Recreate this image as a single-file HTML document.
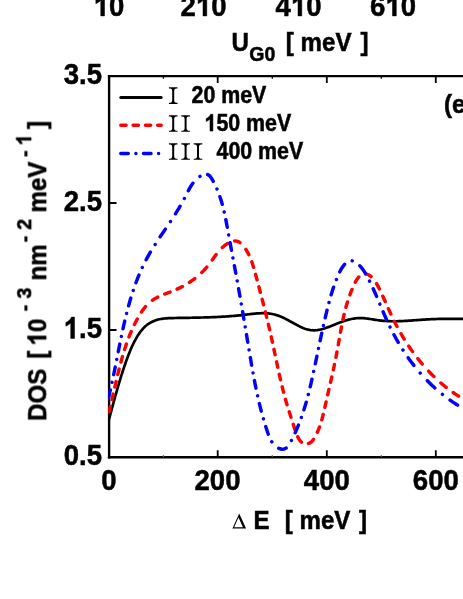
<!DOCTYPE html>
<html><head><meta charset="utf-8"><title>DOS chart</title>
<style>
html,body{margin:0;padding:0;background:#fff;}
body{width:463px;height:599px;overflow:hidden;}
svg{display:block;will-change:transform;}
text{font-family:"Liberation Sans",sans-serif;font-weight:bold;fill:#000;stroke:#000;stroke-width:0.5px;}
.t{font-size:28px;}
.l{font-size:24.5px;}
.s{font-size:19.8px;}
.g{font-size:21.5px;}
</style></head><body>
<svg width="463" height="599" viewBox="0 0 463 599">
<rect width="463" height="599" fill="#fff"/>
<g opacity="0.999">
<!-- top panel tick labels -->
<g transform="translate(109.0 15.9) scale(0.985 1.06)"><path d="M806,0H525V1059Q371,915 162,846V1101Q272,1137 401,1237.5Q530,1338 578,1472H806Z" transform="translate(-15.568 0) scale(0.013672 -0.013672)" fill="#000" stroke="#000" stroke-width="36.6"/><text class="t" x="0.000" y="0" xml:space="preserve">0</text></g>
<g transform="translate(203.6 15.9) scale(0.985 1.06)"><text class="t" x="-23.352" y="0" xml:space="preserve">2</text><path d="M806,0H525V1059Q371,915 162,846V1101Q272,1137 401,1237.5Q530,1338 578,1472H806Z" transform="translate(-7.784 0) scale(0.013672 -0.013672)" fill="#000" stroke="#000" stroke-width="36.6"/><text class="t" x="7.784" y="0" xml:space="preserve">0</text></g>
<g transform="translate(298.6 15.9) scale(0.985 1.06)"><text class="t" x="-23.352" y="0" xml:space="preserve">4</text><path d="M806,0H525V1059Q371,915 162,846V1101Q272,1137 401,1237.5Q530,1338 578,1472H806Z" transform="translate(-7.784 0) scale(0.013672 -0.013672)" fill="#000" stroke="#000" stroke-width="36.6"/><text class="t" x="7.784" y="0" xml:space="preserve">0</text></g>
<g transform="translate(393.1 15.9) scale(0.985 1.06)"><text class="t" x="-23.352" y="0" xml:space="preserve">6</text><path d="M806,0H525V1059Q371,915 162,846V1101Q272,1137 401,1237.5Q530,1338 578,1472H806Z" transform="translate(-7.784 0) scale(0.013672 -0.013672)" fill="#000" stroke="#000" stroke-width="36.6"/><text class="t" x="7.784" y="0" xml:space="preserve">0</text></g>
<!-- top label -->
<text class="l" transform="translate(231.5 50.9) scale(0.985 1.06)">U</text>
<text class="s" transform="translate(249.3 60.5) scale(0.985 1.06)">G0</text>
<text class="l" transform="translate(285.8 50.5) scale(0.985 1.06)">[</text>
<text class="l" transform="translate(300.6 50.5) scale(0.985 1.06)">meV</text>
<text class="l" transform="translate(360.6 50.5) scale(0.985 1.06)">]</text>
<!-- axes -->
<g stroke="#000" fill="none">
<path d="M109.1,75 V458.4" stroke-width="2.4"/>
<path d="M107.9,76.1 H463" stroke-width="2.4"/>
<path d="M107.9,457.3 H463" stroke-width="2.4"/>
<g stroke-width="1.8">
<path d="M217.7,76 V83 M326.8,76 V83 M435.8,76 V83"/>
<path d="M217.7,457 V450.3 M326.8,457 V450.3 M435.8,457 V450.3"/>
<path d="M109,203.0 H116.5 M109,330.0 H116.5"/>
</g>
<g stroke-width="1.3">
<path d="M163.4,76 V78.7 M272.3,76 V78.7 M381.3,76 V78.7"/>
<path d="M163.4,457 V455.2 M272.3,457 V455.2 M381.3,457 V455.2" stroke="#555"/>
</g>
</g>
<!-- curves -->
<clipPath id="cp"><rect x="108.2" y="77" width="360" height="380"/></clipPath>
<g fill="none" stroke-linejoin="round" clip-path="url(#cp)">
<path d="M109.02,419.03 L109.36,417.78 L109.70,416.54 L110.04,415.29 L110.38,414.05 L110.72,412.81 L111.06,411.57 L111.40,410.33 L111.74,409.09 L112.07,407.85 L112.41,406.61 L112.75,405.37 L113.09,404.13 L113.43,402.90 L113.77,401.66 L114.11,400.43 L114.45,399.19 L114.79,397.96 L115.13,396.73 L115.48,395.50 L115.82,394.27 L116.17,393.04 L116.52,391.81 L116.87,390.58 L117.22,389.35 L117.57,388.13 L117.93,386.90 L118.29,385.67 L118.65,384.45 L119.01,383.23 L119.37,382.00 L119.74,380.78 L120.11,379.56 L120.49,378.34 L120.87,377.12 L121.25,375.90 L121.63,374.68 L122.02,373.47 L122.41,372.25 L122.80,371.03 L123.20,369.82 L123.60,368.60 L124.01,367.39 L124.42,366.18 L124.84,364.97 L125.26,363.75 L125.68,362.54 L126.11,361.33 L126.54,360.13 L126.98,358.92 L127.43,357.71 L127.88,356.50 L128.34,355.30 L128.80,354.10 L129.27,352.90 L129.76,351.70 L130.25,350.51 L130.75,349.32 L131.27,348.14 L131.79,346.96 L132.33,345.79 L132.88,344.62 L133.45,343.46 L134.03,342.30 L134.62,341.16 L135.23,340.02 L135.86,338.89 L136.50,337.76 L137.17,336.65 L137.85,335.54 L138.55,334.45 L139.28,333.37 L140.02,332.32 L140.79,331.28 L141.59,330.27 L142.41,329.29 L143.26,328.34 L144.14,327.43 L145.05,326.56 L145.99,325.72 L146.97,324.94 L147.97,324.20 L149.01,323.50 L150.07,322.85 L151.17,322.25 L152.28,321.69 L153.42,321.17 L154.59,320.70 L155.77,320.28 L156.97,319.90 L158.19,319.56 L159.42,319.27 L160.67,319.02 L161.92,318.81 L163.19,318.63 L164.47,318.49 L165.76,318.37 L167.05,318.28 L168.35,318.21 L169.65,318.15 L170.96,318.11 L172.26,318.07 L173.57,318.05 L174.87,318.02 L176.17,318.00 L177.47,317.97 L178.77,317.95 L180.06,317.93 L181.35,317.91 L182.64,317.88 L183.93,317.86 L185.22,317.84 L186.51,317.82 L187.79,317.80 L189.08,317.78 L190.36,317.75 L191.64,317.73 L192.92,317.71 L194.20,317.68 L195.47,317.66 L196.75,317.63 L198.02,317.61 L199.30,317.58 L200.57,317.55 L201.84,317.52 L203.12,317.48 L204.39,317.45 L205.66,317.41 L206.93,317.37 L208.20,317.33 L209.47,317.29 L210.74,317.24 L212.01,317.20 L213.28,317.15 L214.55,317.09 L215.82,317.04 L217.09,316.98 L218.36,316.92 L219.63,316.85 L220.91,316.79 L222.18,316.71 L223.45,316.64 L224.72,316.56 L226.00,316.48 L227.27,316.39 L228.55,316.30 L229.82,316.21 L231.10,316.11 L232.38,316.01 L233.66,315.90 L234.94,315.79 L236.22,315.67 L237.51,315.55 L238.79,315.42 L240.08,315.29 L241.37,315.15 L242.66,315.01 L243.95,314.87 L245.24,314.71 L246.54,314.56 L247.83,314.40 L249.13,314.25 L250.42,314.10 L251.72,313.95 L253.01,313.82 L254.30,313.69 L255.60,313.57 L256.89,313.47 L258.17,313.38 L259.46,313.31 L260.74,313.25 L262.01,313.22 L263.29,313.21 L264.55,313.23 L265.82,313.27 L267.07,313.35 L268.33,313.45 L269.57,313.59 L270.81,313.76 L272.04,313.97 L273.27,314.22 L274.48,314.51 L275.69,314.84 L276.89,315.20 L278.09,315.61 L279.28,316.04 L280.46,316.51 L281.64,317.00 L282.81,317.53 L283.98,318.07 L285.14,318.64 L286.31,319.22 L287.47,319.83 L288.62,320.44 L289.78,321.07 L290.93,321.71 L292.08,322.36 L293.24,323.01 L294.39,323.66 L295.55,324.30 L296.70,324.93 L297.86,325.55 L299.02,326.15 L300.19,326.73 L301.36,327.27 L302.53,327.79 L303.71,328.26 L304.89,328.70 L306.08,329.09 L307.28,329.43 L308.48,329.71 L309.69,329.94 L310.91,330.11 L312.13,330.22 L313.36,330.28 L314.59,330.28 L315.82,330.22 L317.05,330.11 L318.28,329.94 L319.52,329.72 L320.75,329.45 L321.99,329.15 L323.22,328.81 L324.45,328.43 L325.69,328.02 L326.92,327.59 L328.15,327.14 L329.38,326.68 L330.61,326.20 L331.84,325.71 L333.07,325.22 L334.29,324.73 L335.51,324.24 L336.74,323.75 L337.96,323.27 L339.18,322.80 L340.40,322.34 L341.62,321.90 L342.84,321.46 L344.06,321.05 L345.28,320.65 L346.50,320.28 L347.72,319.92 L348.95,319.59 L350.18,319.29 L351.41,319.01 L352.64,318.77 L353.87,318.55 L355.11,318.38 L356.36,318.24 L357.60,318.13 L358.85,318.07 L360.11,318.05 L361.37,318.07 L362.63,318.12 L363.90,318.21 L365.16,318.33 L366.44,318.47 L367.71,318.63 L368.99,318.81 L370.27,319.01 L371.55,319.21 L372.83,319.42 L374.12,319.63 L375.40,319.83 L376.69,320.03 L377.97,320.22 L379.25,320.39 L380.54,320.55 L381.82,320.69 L383.10,320.81 L384.38,320.92 L385.66,321.01 L386.94,321.08 L388.22,321.15 L389.49,321.20 L390.77,321.23 L392.05,321.26 L393.32,321.27 L394.60,321.27 L395.88,321.26 L397.15,321.24 L398.43,321.21 L399.70,321.17 L400.98,321.13 L402.25,321.08 L403.53,321.02 L404.80,320.95 L406.08,320.88 L407.35,320.80 L408.62,320.72 L409.90,320.64 L411.17,320.55 L412.45,320.46 L413.72,320.37 L415.00,320.27 L416.28,320.18 L417.55,320.08 L418.83,319.99 L420.10,319.90 L421.38,319.80 L422.66,319.72 L423.94,319.63 L425.22,319.55 L426.50,319.47 L427.78,319.39 L429.06,319.32 L430.34,319.26 L431.62,319.20 L432.90,319.15 L434.19,319.10 L435.47,319.05 L436.75,319.01 L438.04,318.97 L439.32,318.94 L440.60,318.91 L441.89,318.88 L443.17,318.86 L444.46,318.84 L445.74,318.83 L447.03,318.82 L448.31,318.81 L449.59,318.80 L450.88,318.80 L452.16,318.80 L453.44,318.80 L454.72,318.81 L456.01,318.82 L457.29,318.83 L458.57,318.84 L459.85,318.86 L461.12,318.88 L462.40,318.90 L463.68,318.92 L464.00,318.92" stroke="#000" stroke-width="2.7"/>
<path d="M108.84,411.95 L109.44,409.64 L110.03,407.33 L110.61,405.02 L111.18,402.70 L111.74,400.37 L112.29,398.05 L112.84,395.72 L113.38,393.38 L113.92,391.05 L114.46,388.71 L115.00,386.37 L115.54,384.03 L116.08,381.69 L116.62,379.35 L117.17,377.01 L117.73,374.67 L118.30,372.34 L118.87,370.01 L119.45,367.68 L120.05,365.35 L120.66,363.03 L121.28,360.72 L121.92,358.40 L122.58,356.10 L123.25,353.80 L123.95,351.51 L124.66,349.22 L125.40,346.95 L126.16,344.68 L126.95,342.42 L127.77,340.17 L128.61,337.93 L129.48,335.71 L130.38,333.49 L131.31,331.29 L132.28,329.09 L133.28,326.91 L134.32,324.75 L135.40,322.60 L136.51,320.46 L137.66,318.33 L138.86,316.23 L140.10,314.15 L141.40,312.12 L142.76,310.14 L144.20,308.22 L145.70,306.39 L147.29,304.65 L148.98,303.01 L150.76,301.49 L152.64,300.10 L154.62,298.83 L156.69,297.67 L158.83,296.60 L161.03,295.60 L163.27,294.66 L165.54,293.76 L167.84,292.87 L170.13,291.99 L172.42,291.09 L174.69,290.16 L176.92,289.18 L179.12,288.16 L181.28,287.09 L183.41,285.96 L185.49,284.79 L187.54,283.56 L189.54,282.29 L191.51,280.96 L193.43,279.58 L195.31,278.15 L197.14,276.67 L198.93,275.14 L200.68,273.55 L202.38,271.91 L204.03,270.22 L205.63,268.47 L207.18,266.67 L208.68,264.82 L210.14,262.91 L211.56,260.96 L212.96,258.99 L214.38,257.01 L215.82,255.04 L217.31,253.09 L218.87,251.19 L220.52,249.35 L222.29,247.59 L224.18,245.92 L226.21,244.37 L228.34,243.02 L230.51,241.95 L232.67,241.22 L234.78,240.91 L236.80,241.10 L238.69,241.78 L240.46,242.90 L242.11,244.37 L243.65,246.12 L245.07,248.07 L246.39,250.16 L247.60,252.32 L248.72,254.50 L249.74,256.73 L250.69,258.98 L251.56,261.25 L252.37,263.55 L253.13,265.86 L253.85,268.19 L254.52,270.53 L255.17,272.87 L255.81,275.21 L256.43,277.55 L257.05,279.89 L257.67,282.22 L258.28,284.54 L258.90,286.86 L259.51,289.18 L260.12,291.49 L260.72,293.80 L261.32,296.11 L261.92,298.41 L262.52,300.71 L263.11,303.02 L263.70,305.32 L264.28,307.62 L264.86,309.93 L265.44,312.23 L266.01,314.54 L266.58,316.84 L267.14,319.15 L267.70,321.47 L268.25,323.78 L268.80,326.11 L269.34,328.43 L269.88,330.76 L270.41,333.10 L270.93,335.44 L271.45,337.79 L271.96,340.14 L272.47,342.50 L272.98,344.86 L273.48,347.22 L273.98,349.59 L274.48,351.96 L274.98,354.33 L275.48,356.70 L275.98,359.07 L276.48,361.44 L276.98,363.81 L277.49,366.18 L278.00,368.54 L278.51,370.90 L279.03,373.26 L279.56,375.61 L280.09,377.96 L280.63,380.30 L281.17,382.63 L281.73,384.96 L282.29,387.27 L282.87,389.58 L283.45,391.88 L284.04,394.17 L284.65,396.45 L285.27,398.72 L285.91,400.97 L286.55,403.22 L287.22,405.45 L287.89,407.66 L288.59,409.87 L289.30,412.08 L290.02,414.31 L290.77,416.58 L291.52,418.90 L292.30,421.29 L293.08,423.76 L293.89,426.32 L294.72,428.95 L295.60,431.56 L296.54,434.10 L297.57,436.49 L298.69,438.66 L299.94,440.55 L301.33,442.09 L302.88,443.21 L304.59,443.84 L306.40,443.99 L308.23,443.66 L310.02,442.85 L311.68,441.56 L313.20,439.85 L314.58,437.83 L315.84,435.58 L316.98,433.20 L318.02,430.78 L318.97,428.39 L319.83,426.02 L320.61,423.67 L321.33,421.35 L322.00,419.04 L322.61,416.74 L323.19,414.46 L323.74,412.17 L324.27,409.89 L324.78,407.61 L325.30,405.32 L325.82,403.02 L326.35,400.71 L326.87,398.40 L327.41,396.07 L327.94,393.75 L328.47,391.41 L329.01,389.07 L329.54,386.73 L330.08,384.38 L330.61,382.02 L331.14,379.67 L331.67,377.31 L332.19,374.95 L332.71,372.58 L333.23,370.22 L333.74,367.86 L334.24,365.49 L334.73,363.13 L335.22,360.76 L335.70,358.40 L336.17,356.04 L336.63,353.69 L337.07,351.33 L337.51,348.98 L337.93,346.64 L338.35,344.29 L338.76,341.95 L339.17,339.62 L339.58,337.28 L339.99,334.95 L340.41,332.62 L340.83,330.29 L341.26,327.97 L341.70,325.64 L342.16,323.32 L342.64,320.99 L343.13,318.67 L343.65,316.34 L344.19,314.02 L344.76,311.69 L345.35,309.37 L345.98,307.04 L346.65,304.71 L347.35,302.38 L348.09,300.05 L348.87,297.72 L349.69,295.38 L350.57,293.04 L351.49,290.69 L352.46,288.35 L353.49,285.99 L354.58,283.66 L355.74,281.40 L356.98,279.30 L358.34,277.44 L359.80,275.90 L361.41,274.75 L363.15,274.07 L365.04,273.91 L366.97,274.24 L368.85,275.02 L370.61,276.20 L372.27,277.73 L373.83,279.54 L375.29,281.59 L376.66,283.81 L377.97,286.15 L379.20,288.56 L380.38,290.97 L381.50,293.34 L382.59,295.67 L383.63,297.95 L384.65,300.20 L385.64,302.42 L386.61,304.61 L387.57,306.78 L388.52,308.92 L389.47,311.05 L390.43,313.16 L391.40,315.27 L392.39,317.36 L393.40,319.46 L394.43,321.55 L395.49,323.64 L396.58,325.72 L397.69,327.80 L398.82,329.88 L399.98,331.95 L401.16,334.01 L402.37,336.06 L403.60,338.10 L404.86,340.14 L406.14,342.16 L407.44,344.17 L408.77,346.17 L410.12,348.16 L411.50,350.13 L412.90,352.09 L414.32,354.04 L415.77,355.97 L417.24,357.88 L418.73,359.77 L420.25,361.65 L421.79,363.50 L423.35,365.34 L424.94,367.16 L426.55,368.95 L428.18,370.72 L429.84,372.47 L431.52,374.20 L433.22,375.90 L434.94,377.57 L436.69,379.22 L438.46,380.84 L440.25,382.44 L442.07,384.00 L443.90,385.54 L445.76,387.04 L447.64,388.52 L449.55,389.96 L451.47,391.37 L453.42,392.75 L455.39,394.09 L457.38,395.40 L459.40,396.67 L461.43,397.91 L463.49,399.10 L464.00,399.40" stroke="#f00" stroke-width="3.45" stroke-linecap="round" stroke-dasharray="5.54 7.34 5.51 7.32 5.50 7.33 5.52 7.37 5.57 7.45 5.65 7.60 5.80 7.85 6.04 8.31 6.71 9.39 6.15 7.70 5.68 7.63 5.91 8.19 6.50 9.33 7.31 8.98 6.62 9.44 6.71 7.56 5.65 9.07 6.11 7.73 5.65 7.42 5.55 7.38 5.55 7.37 5.54 7.36 5.52 7.34 5.51 7.31 5.49 7.29 5.48 7.29 5.48 7.30 5.50 7.33 5.53 7.39 5.58 7.47 5.64 7.50 5.63 7.66 6.53 7.57 6.61 8.13 5.77 7.49 5.55 7.32 5.50 7.32 5.50 7.32 5.50 7.30 5.48 7.28 5.46 7.25 5.45 7.25 5.45 7.28 5.50 7.36 5.59 7.53 5.76 7.84 6.42 7.99 5.98 8.99 6.08 7.90 5.89 7.81 5.88 7.91 6.03 8.16 6.25 8.48 6.53 8.92 6.92 9.56 7.46 9.59 6.89 8.79 6.36 50.00"/>
<path d="M108.45,397.64 L109.11,395.00 L109.75,392.35 L110.38,389.69 L111.00,387.02 L111.60,384.33 L112.19,381.63 L112.77,378.93 L113.35,376.21 L113.92,373.48 L114.48,370.75 L115.03,368.00 L115.59,365.25 L116.13,362.50 L116.68,359.74 L117.23,356.97 L117.77,354.20 L118.32,351.43 L118.87,348.65 L119.43,345.88 L119.99,343.10 L120.55,340.32 L121.13,337.54 L121.71,334.76 L122.30,331.99 L122.90,329.21 L123.51,326.44 L124.14,323.67 L124.77,320.91 L125.43,318.16 L126.10,315.40 L126.79,312.66 L127.49,309.92 L128.22,307.19 L128.96,304.47 L129.73,301.76 L130.52,299.06 L131.33,296.37 L132.17,293.69 L133.04,291.03 L133.93,288.38 L134.85,285.74 L135.80,283.11 L136.78,280.51 L137.79,277.91 L138.84,275.34 L139.91,272.78 L141.03,270.24 L142.18,267.71 L143.37,265.21 L144.59,262.73 L145.86,260.27 L147.16,257.83 L148.51,255.41 L149.89,253.01 L151.31,250.62 L152.75,248.26 L154.23,245.90 L155.72,243.56 L157.24,241.22 L158.78,238.89 L160.32,236.57 L161.89,234.24 L163.45,231.92 L165.03,229.60 L166.60,227.27 L168.18,224.94 L169.75,222.60 L171.31,220.25 L172.86,217.88 L174.39,215.51 L175.91,213.11 L177.41,210.70 L178.88,208.27 L180.33,205.82 L181.75,203.34 L183.13,200.84 L184.48,198.31 L185.79,195.75 L187.08,193.18 L188.39,190.63 L189.75,188.13 L191.18,185.71 L192.73,183.41 L194.42,181.25 L196.29,179.27 L198.38,177.49 L200.70,175.94 L203.26,174.71 L205.82,174.13 L208.10,174.58 L209.98,176.14 L211.58,178.39 L213.01,180.88 L214.35,183.42 L215.60,185.98 L216.77,188.57 L217.86,191.18 L218.88,193.82 L219.83,196.47 L220.71,199.15 L221.54,201.84 L222.32,204.55 L223.04,207.27 L223.72,210.01 L224.36,212.75 L224.97,215.51 L225.54,218.27 L226.09,221.04 L226.62,223.81 L227.14,226.58 L227.64,229.35 L228.14,232.13 L228.63,234.90 L229.13,237.66 L229.64,240.42 L230.14,243.18 L230.65,245.93 L231.16,248.68 L231.68,251.43 L232.19,254.17 L232.71,256.92 L233.23,259.66 L233.74,262.41 L234.26,265.15 L234.78,267.89 L235.29,270.64 L235.80,273.38 L236.32,276.13 L236.82,278.89 L237.33,281.64 L237.83,284.40 L238.33,287.16 L238.82,289.93 L239.32,292.70 L239.81,295.47 L240.29,298.24 L240.78,301.02 L241.26,303.80 L241.74,306.58 L242.21,309.36 L242.69,312.14 L243.16,314.92 L243.63,317.70 L244.10,320.48 L244.57,323.26 L245.04,326.04 L245.51,328.82 L245.97,331.60 L246.44,334.38 L246.90,337.15 L247.37,339.93 L247.83,342.70 L248.30,345.46 L248.76,348.23 L249.23,350.99 L249.69,353.74 L250.16,356.49 L250.62,359.24 L251.09,361.99 L251.57,364.73 L252.05,367.46 L252.53,370.20 L253.02,372.93 L253.52,375.66 L254.02,378.39 L254.54,381.12 L255.07,383.85 L255.62,386.57 L256.17,389.30 L256.74,392.03 L257.33,394.76 L257.94,397.49 L258.56,400.22 L259.21,402.95 L259.87,405.68 L260.56,408.42 L261.27,411.16 L262.01,413.91 L262.77,416.66 L263.56,419.41 L264.38,422.17 L265.22,424.93 L266.10,427.70 L267.01,430.48 L267.95,433.25 L268.96,436.00 L270.09,438.65 L271.38,441.15 L272.88,443.45 L274.64,445.47 L276.72,447.17 L279.15,448.49 L281.80,449.23 L284.21,449.06 L286.27,447.96 L288.04,446.15 L289.58,443.86 L290.99,441.31 L292.33,438.70 L293.61,436.08 L294.84,433.46 L296.02,430.84 L297.16,428.21 L298.25,425.58 L299.29,422.95 L300.30,420.31 L301.26,417.67 L302.19,415.02 L303.08,412.37 L303.94,409.71 L304.77,407.04 L305.57,404.38 L306.34,401.70 L307.09,399.02 L307.81,396.34 L308.51,393.65 L309.19,390.95 L309.85,388.25 L310.50,385.54 L311.13,382.82 L311.75,380.10 L312.37,377.37 L312.97,374.63 L313.57,371.88 L314.16,369.13 L314.75,366.37 L315.33,363.61 L315.92,360.84 L316.50,358.07 L317.08,355.30 L317.66,352.52 L318.24,349.75 L318.82,346.97 L319.40,344.20 L319.98,341.43 L320.57,338.66 L321.16,335.89 L321.76,333.13 L322.36,330.38 L322.97,327.63 L323.58,324.90 L324.20,322.17 L324.82,319.45 L325.46,316.74 L326.10,314.04 L326.76,311.36 L327.42,308.68 L328.10,306.03 L328.78,303.39 L329.48,300.76 L330.20,298.15 L330.94,295.54 L331.72,292.93 L332.54,290.30 L333.41,287.65 L334.35,284.96 L335.35,282.24 L336.44,279.46 L337.61,276.62 L338.88,273.74 L340.26,270.90 L341.76,268.21 L343.39,265.77 L345.17,263.69 L347.11,262.07 L349.23,261.01 L351.48,260.65 L353.75,261.16 L355.94,262.40 L358.00,264.03 L359.91,265.91 L361.70,267.99 L363.37,270.24 L364.93,272.63 L366.40,275.12 L367.80,277.68 L369.14,280.28 L370.43,282.89 L371.69,285.50 L372.90,288.11 L374.09,290.71 L375.25,293.32 L376.38,295.92 L377.50,298.51 L378.60,301.10 L379.70,303.69 L380.79,306.27 L381.87,308.84 L382.96,311.40 L384.06,313.96 L385.17,316.51 L386.30,319.05 L387.44,321.58 L388.61,324.10 L389.81,326.61 L391.04,329.11 L392.31,331.60 L393.60,334.07 L394.93,336.53 L396.28,338.97 L397.67,341.40 L399.10,343.82 L400.55,346.21 L402.04,348.59 L403.55,350.94 L405.10,353.28 L406.68,355.60 L408.30,357.90 L409.94,360.17 L411.62,362.42 L413.32,364.65 L415.06,366.85 L416.84,369.03 L418.64,371.18 L420.47,373.30 L422.34,375.40 L424.24,377.46 L426.17,379.50 L428.13,381.51 L430.12,383.48 L432.14,385.42 L434.20,387.33 L436.29,389.21 L438.40,391.05 L440.55,392.86 L442.74,394.63 L444.95,396.36 L447.19,398.06 L449.47,399.72 L451.78,401.33 L454.12,402.91 L456.49,404.45 L458.89,405.94 L459.49,406.31" stroke="#00f" stroke-width="3.45" stroke-linecap="round" stroke-dasharray="7.81 7.88 0.01 7.86 7.75 7.84 0.01 7.84 7.74 7.85 0.01 7.87 7.78 7.91 0.01 7.95 7.90 8.07 0.01 8.15 8.15 8.40 0.01 8.59 8.71 9.04 0.01 9.20 9.16 9.27 0.01 9.17 8.89 8.80 0.01 8.63 8.87 9.92 0.01 8.10 9.10 8.55 0.01 8.24 7.94 7.93 0.01 7.86 7.72 7.81 0.01 7.82 7.72 7.83 0.01 7.83 7.72 7.82 0.01 7.82 7.71 7.81 0.01 7.80 7.70 7.80 0.01 7.80 7.70 7.80 0.01 7.80 7.70 7.81 0.01 7.82 7.74 7.86 0.01 7.89 7.83 7.98 0.01 8.04 8.00 8.47 0.01 9.54 7.93 9.30 0.01 8.55 8.26 8.23 0.01 8.12 7.93 7.97 0.01 7.92 7.79 7.87 0.01 7.86 7.76 7.86 0.01 7.86 7.76 7.88 0.01 7.89 7.81 7.94 0.01 7.98 7.96 8.20 0.01 8.40 9.01 8.75 0.01 9.24 9.46 8.75 0.01 8.52 8.30 8.36 0.01 8.35 8.28 8.49 0.01 8.64 8.70 9.03 0.01 9.29 9.47 9.98 0.01 10.47 10.41 9.99 0.01 9.52 9.01 50.00"/>
</g>
<!-- tick labels -->
<text class="t" transform="translate(102.0 84.4) scale(0.985 1.06)" text-anchor="end">3.5</text>
<text class="t" transform="translate(102.0 211.4) scale(0.985 1.06)" text-anchor="end">2.5</text>
<g transform="translate(102.0 338.4) scale(0.985 1.06)"><path d="M806,0H525V1059Q371,915 162,846V1101Q272,1137 401,1237.5Q530,1338 578,1472H806Z" transform="translate(-38.920 0) scale(0.013672 -0.013672)" fill="#000" stroke="#000" stroke-width="36.6"/><text class="t" x="-23.352" y="0" xml:space="preserve">.5</text></g>
<text class="t" transform="translate(102.0 465.4) scale(0.985 1.06)" text-anchor="end">0.5</text>
<text class="t" transform="translate(108.8 490.0) scale(0.985 1.06)" text-anchor="middle">0</text>
<text class="t" transform="translate(217.5 490.0) scale(0.985 1.06)" text-anchor="middle">200</text>
<text class="t" transform="translate(326.8 490.0) scale(0.985 1.06)" text-anchor="middle">400</text>
<text class="t" transform="translate(435.8 490.0) scale(0.985 1.06)" text-anchor="middle">600</text>
<!-- bottom label -->
<path d="M232.4,528.4 L239.2,513.5 L246.1,528.4 Z M234.15,527.2 L238.5,517.6 L242.95,527.2 Z" fill="#000" fill-rule="evenodd"/>
<text class="l" transform="translate(253.4 528.9) scale(0.985 1.06)">E</text>
<text class="l" transform="translate(284.8 528.9) scale(0.985 1.06)">[</text>
<text class="l" transform="translate(299.5 528.9) scale(0.985 1.06)">meV</text>
<text class="l" transform="translate(359.0 528.9) scale(0.985 1.06)">]</text>
<!-- y label -->
<g transform="translate(46.2,419.5) rotate(-90)">
<text class="l" transform="translate(-1.5 0) scale(0.985 1.06)">DOS</text>
<text class="l" transform="translate(60.8 0) scale(0.985 1.06)">[</text>
<g transform="translate(74.0 0) scale(0.985 1.06)"><path d="M806,0H525V1059Q371,915 162,846V1101Q272,1137 401,1237.5Q530,1338 578,1472H806Z" transform="translate(0.000 0) scale(0.011963 -0.011963)" fill="#000" stroke="#000" stroke-width="41.8"/><text class="l" x="13.622" y="0" xml:space="preserve">0</text></g>
<text class="s" transform="translate(108.2 -15.0) scale(0.985 1.06)">-</text>
<text class="s" transform="translate(120.9 -15.0) scale(0.985 1.06)">3</text>
<text class="l" transform="translate(139 0) scale(0.985 1.06)">nm</text>
<text class="s" transform="translate(177.3 -15.0) scale(0.985 1.06)">-</text>
<text class="s" transform="translate(189.8 -15.0) scale(0.985 1.06)">2</text>
<text class="l" transform="translate(207 0) scale(0.985 1.06)">meV</text>
<text class="s" transform="translate(262.6 -15.0) scale(0.985 1.06)">-</text>
<g transform="translate(274.2 -15.0) scale(0.985 1.06)"><path d="M806,0H525V1059Q371,915 162,846V1101Q272,1137 401,1237.5Q530,1338 578,1472H806Z" transform="translate(0.000 0) scale(0.009668 -0.009668)" fill="#000" stroke="#000" stroke-width="51.7"/></g>
<text class="l" transform="translate(290.5 0) scale(0.985 1.06)">]</text>
</g>
<!-- legend -->
<g fill="none" stroke-linecap="round">
<path d="M120.8,97.4 H161.2" stroke="#000" stroke-width="3"/>
<path d="M120.8,125.2 H161.2" stroke="#f00" stroke-width="3.45" stroke-dasharray="5.3 7"/>
<path d="M120.8,153.4 H161.2" stroke="#00f" stroke-width="3.45" stroke-dasharray="7.5 7.6 0.01 7.6"/>
</g>
<path d="M168.90,87.30H177.50V88.45H175.90Q174.20,88.65 174.20,90.70V100.60Q174.20,102.65 175.90,102.85H177.50V104.00H168.90V102.85H170.50Q172.20,102.65 172.20,100.60V90.70Q172.20,88.65 170.50,88.45H168.90Z" fill="#000"/>
<path d="M168.90,115.30H177.50V116.45H175.90Q174.20,116.65 174.20,118.70V128.40Q174.20,130.45 175.90,130.65H177.50V131.80H168.90V130.65H170.50Q172.20,130.45 172.20,128.40V118.70Q172.20,116.65 170.50,116.45H168.90Z" fill="#000"/>
<path d="M181.30,115.30H189.90V116.45H188.30Q186.60,116.65 186.60,118.70V128.40Q186.60,130.45 188.30,130.65H189.90V131.80H181.30V130.65H182.90Q184.60,130.45 184.60,128.40V118.70Q184.60,116.65 182.90,116.45H181.30Z" fill="#000"/>
<path d="M168.90,143.30H177.50V144.45H175.90Q174.20,144.65 174.20,146.70V156.40Q174.20,158.45 175.90,158.65H177.50V159.80H168.90V158.65H170.50Q172.20,158.45 172.20,156.40V146.70Q172.20,144.65 170.50,144.45H168.90Z" fill="#000"/>
<path d="M181.30,143.30H189.90V144.45H188.30Q186.60,144.65 186.60,146.70V156.40Q186.60,158.45 188.30,158.65H189.90V159.80H181.30V158.65H182.90Q184.60,158.45 184.60,156.40V146.70Q184.60,144.65 182.90,144.45H181.30Z" fill="#000"/>
<path d="M193.70,143.30H202.30V144.45H200.70Q199.00,144.65 199.00,146.70V156.40Q199.00,158.45 200.70,158.65H202.30V159.80H193.70V158.65H195.30Q197.00,158.45 197.00,156.40V146.70Q197.00,144.65 195.30,144.45H193.70Z" fill="#000"/>
<text class="g" transform="translate(191.5 103.3) scale(0.995 1.09)">20 meV</text>
<g transform="translate(204.5 131.1) scale(0.995 1.09)"><path d="M806,0H525V1059Q371,915 162,846V1101Q272,1137 401,1237.5Q530,1338 578,1472H806Z" transform="translate(0.000 0) scale(0.010498 -0.010498)" fill="#000" stroke="#000" stroke-width="47.6"/><text class="g" x="11.954" y="0" xml:space="preserve">50 meV</text></g>
<text class="g" transform="translate(216.5 159.0) scale(0.995 1.09)">400 meV</text>
<text class="l" transform="translate(444 112.5) scale(0.985 1.06)">(e</text>
</g>
</svg>
</body></html>
